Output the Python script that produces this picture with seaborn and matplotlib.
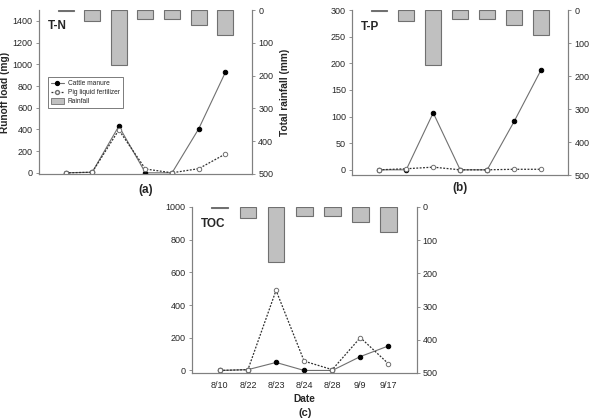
import numpy as np
import pandas as pd
import matplotlib.pyplot as plt
import seaborn as sns
from matplotlib.lines import Line2D
from matplotlib.patches import Patch

# --- Données ---
dates = ["8/10", "8/22", "8/23", "8/24", "8/28", "9/9", "9/17"]
rainfall = [4, 32, 167, 28, 26, 46, 75]  # mm

tn_cattle = [0, 5, 430, 0, 0, 405, 925]
tn_pig = [0, 5, 395, 35, 0, 38, 173]

tp_cattle = [0, 0, 107, 0, 0, 91, 188]
tp_pig = [0, 2, 5, 0, 0, 1, 1]

toc_cattle = [0, 5, 49, 0, 0, 85, 150]
toc_pig = [0, 5, 490, 57, 5, 201, 41]

sns.set_style("ticks")
plt.rcParams["font.family"] = ["Liberation Sans", "DejaVu Sans"]

SPINE = "#808080"
BAR_FC = "#c0c0c0"
BAR_EC = "#707070"
TICK_FS = 6.5
LABEL_FS = 7.3

fig = plt.figure(figsize=(5.9, 4.19), dpi=100)


def panel(rect, cattle, pig, ylim, yticks, name, show_dates=False):
    ax = fig.add_axes(rect)
    ax2 = ax.twinx()
    x = np.arange(len(dates))

    df_rain = pd.DataFrame({"x": x, "rain": rainfall})
    sns.barplot(data=df_rain, x="x", y="rain", ax=ax2, color=BAR_FC,
                edgecolor=BAR_EC, linewidth=0.8, width=0.6, saturation=1,
                native_scale=True)
    ax2.set_ylim(500, 0)
    ax2.set_yticks([0, 100, 200, 300, 400, 500])

    df = pd.DataFrame({"x": x, "cattle": cattle, "pig": pig})
    sns.lineplot(data=df, x="x", y="cattle", ax=ax, color="#707070", lw=0.8,
                 marker="o", markersize=3.2, markerfacecolor="black",
                 markeredgecolor="black")
    sns.lineplot(data=df, x="x", y="pig", ax=ax, color="#303030", lw=0.9,
                 linestyle=(0, (1.5, 1.2)), marker="o", markersize=3.2,
                 markerfacecolor="white", markeredgecolor="#707070",
                 markeredgewidth=0.7)

    ax.set_zorder(ax2.get_zorder() + 1)
    ax.patch.set_visible(False)

    ax.set_xlim(-1, 7)
    ax2.set_xlim(-1, 7)
    ax.set_ylim(*ylim)
    ax.set_yticks(yticks)
    ax.set_xlabel("")
    ax.set_ylabel("")
    ax2.set_xlabel("")
    ax2.set_ylabel("")

    for a in (ax, ax2):
        for s in ["left", "right", "bottom"]:
            a.spines[s].set_color(SPINE)
            a.spines[s].set_linewidth(0.8)
        a.spines["top"].set_visible(False)
        a.tick_params(axis="y", labelsize=TICK_FS, length=2.5, width=0.6,
                      color=SPINE, pad=2)
    ax.set_xticks(x)
    if show_dates:
        ax.set_xticklabels(dates)
        ax.tick_params(axis="x", labelsize=TICK_FS, length=0, pad=6)
    else:
        ax.set_xticklabels([])
        ax.tick_params(axis="x", length=0)
    ax2.tick_params(axis="x", length=0, labelbottom=False)

    ax.text(0.04, 0.9, name, transform=ax.transAxes, fontsize=8.5,
            fontweight="bold", va="center", ha="left")
    return ax, ax2


ax_a, ax2_a = panel([0.066, 0.585, 0.361, 0.391], tn_cattle, tn_pig,
                    (-10, 1500), [0, 200, 400, 600, 800, 1000, 1200, 1400], "T-N")
ax_b, ax2_b = panel([0.597, 0.582, 0.366, 0.394], tp_cattle, tp_pig,
                    (-10, 300), [0, 50, 100, 150, 200, 250, 300], "T-P")
ax_c, ax2_c = panel([0.325, 0.110, 0.381, 0.396], toc_cattle, toc_pig,
                    (-15, 1000), [0, 200, 400, 600, 800, 1000], "TOC",
                    show_dates=True)

ax_a.set_ylabel("Runoff load (mg)", fontsize=LABEL_FS, fontweight="bold")
ax_a.yaxis.set_label_coords(-0.138, 0.5)
ax2_a.set_ylabel("Total rainfall (mm)", fontsize=LABEL_FS, fontweight="bold",
                 labelpad=5)
ax_c.set_xlabel("Date", fontsize=LABEL_FS, fontweight="bold", labelpad=3)

# Légende du panneau (a)
handles = [
    Line2D([], [], color="#707070", lw=0.8, marker="o", markersize=2.8,
           markerfacecolor="black", markeredgecolor="black"),
    Line2D([], [], color="#303030", lw=0.9, linestyle=(0, (1.5, 1.2)),
           marker="o", markersize=2.8, markerfacecolor="white",
           markeredgecolor="#707070"),
    Patch(facecolor=BAR_FC, edgecolor=BAR_EC, linewidth=0.6),
]
leg = ax_a.legend(handles, ["Cattle manure", "Pig liquid fertilizer", "Rainfall"],
                  loc="upper left", bbox_to_anchor=(0.025, 0.61), fontsize=4.8,
                  frameon=True, fancybox=False, edgecolor="#404040",
                  handlelength=2.0, handleheight=0.9, labelspacing=0.3,
                  borderpad=0.45, handletextpad=0.6)
leg.get_frame().set_linewidth(0.6)

fig.text(146 / 590, 1 - 190 / 419, "(a)", fontsize=8.5, fontweight="bold",
         ha="center", va="center")
fig.text(460 / 590, 1 - 188 / 419, "(b)", fontsize=8.5, fontweight="bold",
         ha="center", va="center")
fig.text(305 / 590, 1 - 413 / 419, "(c)", fontsize=8, fontweight="bold",
         ha="center", va="center")

fig.savefig("out.png", dpi=100)
